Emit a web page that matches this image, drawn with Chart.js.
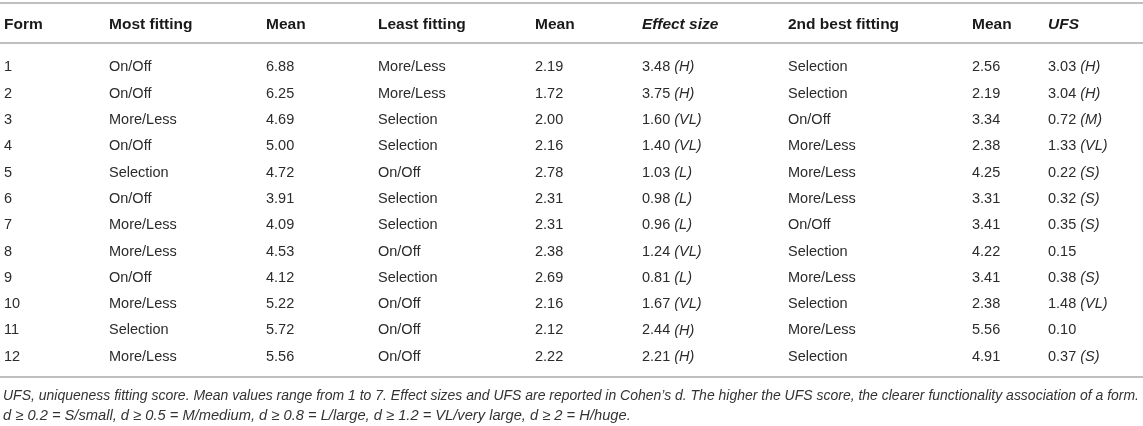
<!DOCTYPE html>
<html>
<head>
<meta charset="utf-8">
<script src="https://cdn.jsdelivr.net/npm/chart.js@4"></script>
<style>
  html, body { margin: 0; padding: 0; background: #fff; }
  #wrap { width: 1143px; height: 426px; }
</style>
</head>
<body>
<div id="wrap"><canvas id="chart" width="1143" height="426"></canvas></div>
<script>
const headers = ["Form", "Most fitting", "Mean", "Least fitting", "Mean", "Effect size", "2nd best fitting", "Mean", "UFS"];
const forms = [1, 2, 3, 4, 5, 6, 7, 8, 9, 10, 11, 12];
const mostFitting = ["On/Off", "On/Off", "More/Less", "On/Off", "Selection", "On/Off",
    "More/Less", "More/Less", "On/Off", "More/Less", "Selection", "More/Less"];
const mostMean = [6.88, 6.25, 4.69, 5.00, 4.72, 3.91, 4.09, 4.53, 4.12, 5.22, 5.72, 5.56];
const leastFitting = ["More/Less", "More/Less", "Selection", "Selection", "On/Off", "Selection",
    "Selection", "On/Off", "Selection", "On/Off", "On/Off", "On/Off"];
const leastMean = [2.19, 1.72, 2.00, 2.16, 2.78, 2.31, 2.31, 2.38, 2.69, 2.16, 2.12, 2.22];
const effectSize = [3.48, 3.75, 1.60, 1.40, 1.03, 0.98, 0.96, 1.24, 0.81, 1.67, 2.44, 2.21];
const effectClass = ["H", "H", "VL", "VL", "L", "L", "L", "VL", "L", "VL", "H", "H"];
const secondFitting = ["Selection", "Selection", "On/Off", "More/Less", "More/Less", "More/Less",
    "On/Off", "Selection", "More/Less", "Selection", "More/Less", "Selection"];
const secondMean = [2.56, 2.19, 3.34, 2.38, 4.25, 3.31, 3.41, 4.22, 3.41, 2.38, 5.56, 4.91];
const ufs = [3.03, 3.04, 0.72, 1.33, 0.22, 0.32, 0.35, 0.15, 0.38, 1.48, 0.10, 0.37];
const ufsClass = ["H", "H", "M", "VL", "S", "S", "S", "", "S", "VL", "", "S"];
const footnote = [
    "UFS, uniqueness fitting score. Mean values range from 1 to 7. Effect sizes and UFS are reported in Cohen\u2019s d. The higher the UFS score, the clearer functionality association of a form.",
    "d \u2265 0.2 = S/small, d \u2265 0.5 = M/medium, d \u2265 0.8 = L/large, d \u2265 1.2 = VL/very large, d \u2265 2 = H/huge.",
];

// layout: left edge of each column, row units on the y scale
const colX = [4, 109, 266, 378, 535, 642, 788, 972, 1048];
const headerRow = -0.63;
const ruleRows = [-1.446, 0.074, 12.77];
const noteRows = [13.48, 14.26];
const italicHeaders = [5, 8];
const FONT = '"Liberation Sans", Arial, Helvetica, sans-serif';

const fmt = (v) => v.toFixed(2);
const columns = [
    forms.map((f) => ({ main: String(f) })),
    mostFitting.map((s) => ({ main: s })),
    mostMean.map((v) => ({ main: fmt(v) })),
    leastFitting.map((s) => ({ main: s })),
    leastMean.map((v) => ({ main: fmt(v) })),
    effectSize.map((v, i) => ({ main: fmt(v), note: effectClass[i] })),
    secondFitting.map((s) => ({ main: s })),
    secondMean.map((v) => ({ main: fmt(v) })),
    ufs.map((v, i) => ({ main: fmt(v), note: ufsClass[i] })),
];

const tablePlugin = {
    id: "tableText",
    afterDatasetsDraw(chart) {
        const ctx = chart.ctx;
        const xs = chart.scales.x;
        const ys = chart.scales.y;
        ctx.save();

        ctx.strokeStyle = "#bfbfbf";
        ctx.lineWidth = 2;
        ruleRows.forEach((r) => {
            const py = Math.round(ys.getPixelForValue(r));
            ctx.beginPath();
            ctx.moveTo(xs.left, py);
            ctx.lineTo(xs.right, py);
            ctx.stroke();
        });

        ctx.textBaseline = "middle";
        ctx.textAlign = "left";
        ctx.fillStyle = "#1a1a1a";
        const hy = ys.getPixelForValue(headerRow);
        headers.forEach((h, c) => {
            const italic = italicHeaders.includes(c) ? "italic " : "";
            ctx.font = italic + "bold 15.5px " + FONT;
            ctx.fillText(h, xs.getPixelForValue(colX[c]), hy);
        });

        ctx.fillStyle = "#2b2b2b";
        chart.data.datasets.forEach((ds, c) => {
            chart.getDatasetMeta(c).data.forEach((pt, i) => {
                const cell = ds.cells[i];
                ctx.font = "14.5px " + FONT;
                ctx.fillText(cell.main, pt.x, pt.y);
                if (cell.note) {
                    const w = ctx.measureText(cell.main + " ").width;
                    ctx.font = "italic 14.5px " + FONT;
                    ctx.fillText("(" + cell.note + ")", pt.x + w, pt.y);
                }
            });
        });

        ctx.fillStyle = "#333";
        ctx.font = "italic 14.7px " + FONT;
        const left = xs.getPixelForValue(colX[0]) - 1;
        footnote.forEach((line, k) => {
            ctx.fillText(line, left, ys.getPixelForValue(noteRows[k]), xs.right - left - 4);
        });
        ctx.restore();
    },
};

const data = {
    datasets: columns.map((cells, c) => ({
        data: cells.map((cell, i) => ({ x: colX[c], y: i + 1 })),
        cells: cells,
        pointRadius: 0,
        showLine: false,
    })),
};

const options = {
    responsive: false,
    animation: false,
    events: [],
    layout: { padding: 0 },
    scales: {
        x: { type: "linear", min: 0, max: 1143, display: false },
        y: { type: "linear", min: -1.56, max: 14.63, reverse: true, display: false },
    },
    plugins: {
        legend: { display: false },
        tooltip: { enabled: false },
    },
};

new Chart(document.querySelector("#chart").getContext("2d"), {
    type: "scatter",
    data: data,
    options: options,
    plugins: [tablePlugin],
});
</script>
</body>
</html>
